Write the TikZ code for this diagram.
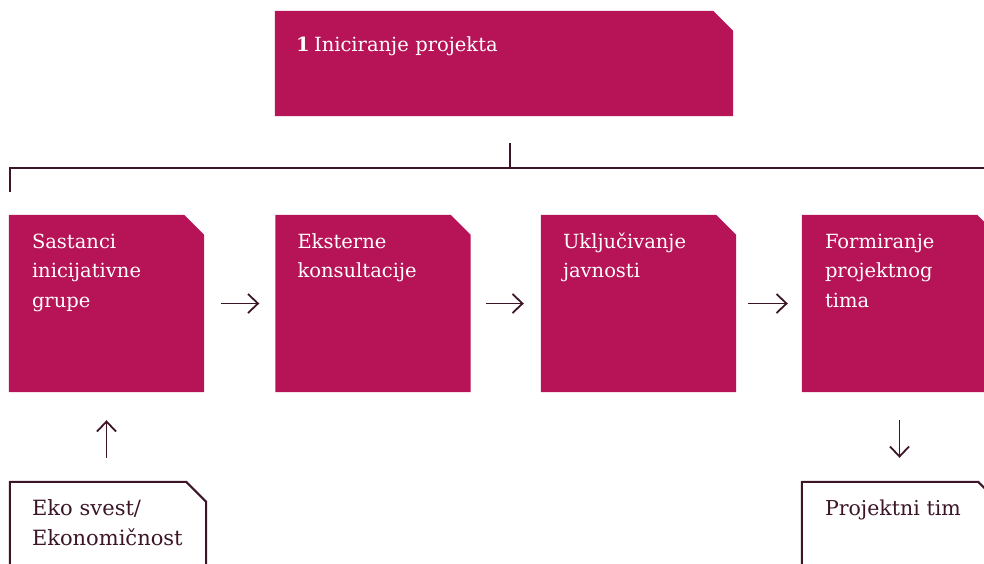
\documentclass[tikz,border=0pt]{standalone}
\usepackage{fontspec}
\setmainfont{DejaVu Serif}
\usetikzlibrary{arrows.meta}
\definecolor{plum}{RGB}{183,20,87}
\definecolor{darkline}{RGB}{60,22,40}
\tikzstyle{phase} = [rectangle, inner sep=0pt, draw=none]
\tikzstyle{arrow} = [line width=1.8pt, darkline, -{Straight Barb[length=10pt,width=19pt,line width=1.8pt]}]
\tikzset{boxtext/.style={anchor=north west, inner sep=0pt, text width=400pt, align=left, font=\fontsize{19.5}{29.5}\selectfont, execute at begin node=\rule{0pt}{18pt}}}
% box with the north east corner cut off
\newcommand{\cutbox}[2]{\filldraw[#2] (#1.south west) |- ([xshift=-20pt]#1.north east) -- ([yshift=-20pt]#1.north east) -- (#1.south east) -- cycle;}

\begin{document}
\begin{tikzpicture}[x=1pt,y=-1pt]
    \clip (0,0) rectangle (984,563);
    \node [phase, minimum width=458, minimum height=105] (init) at (504,63.5) {};

    \node [phase, minimum width=195, minimum height=177] (meet) at (106.5,303.5) {};
    \node [phase, minimum width=195, minimum height=177] (consult) at (373,303.5) {};
    \node [phase, minimum width=195, minimum height=177] (public) at (638.5,303.5) {};
    \node [phase, minimum width=195, minimum height=177] (team) at (899.5,303.5) {};

    \node [phase, minimum width=196, minimum height=140] (eco) at (108,552) {};
    \node [phase, minimum width=196, minimum height=140] (result) at (900,552) {};

    \cutbox{init}{fill=plum, draw=none}
    \cutbox{meet}{fill=plum, draw=none}
    \cutbox{consult}{fill=plum, draw=none}
    \cutbox{public}{fill=plum, draw=none}
    \cutbox{team}{fill=plum, draw=none}
    \cutbox{eco}{fill=white, draw=darkline, line width=2pt}
    \cutbox{result}{fill=white, draw=darkline, line width=2pt}

    \node [boxtext, text=white] (initlabel) at ([shift={(21,22)}]init.north west) {\textbf{1}\hspace{-2pt} Iniciranje projekta};
    \node [boxtext, text=white] (meetlabel) at ([shift={(23,15)}]meet.north west) {Sastanci\\inicijativne\\grupe};
    \node [boxtext, text=white] (consultlabel) at ([shift={(22,15)}]consult.north west) {Eksterne\\konsultacije};
    \node [boxtext, text=white] (publiclabel) at ([shift={(22,15)}]public.north west) {Uključivanje\\javnosti};
    \node [boxtext, text=white] (teamlabel) at ([shift={(23,15)}]team.north west) {Formiranje\\projektnog\\tima};
    \node [boxtext, text=darkline, font=\fontsize{21}{30.5}\selectfont] (ecolabel) at ([shift={(22,15)}]eco.north west) {Eko svest/\\Ekonomičnost};
    \node [boxtext, text=darkline, font=\fontsize{20.5}{30.5}\selectfont] (resultlabel) at ([shift={(23,15)}]result.north west) {Projektni tim};

    % bracket
    \coordinate (stemtop) at ([xshift=6pt, yshift=-27pt]init.south);
    \coordinate (stembottom) at ([yshift=-52pt]init.south -| stemtop);
    \coordinate (leftend) at ([xshift=1pt, yshift=23pt]meet.north west);
    \coordinate (rightend) at (1000,168);
    \draw [line width=2.2pt, darkline] (stemtop) -- (stembottom);
    \draw [line width=2.2pt, darkline] (leftend) |- (rightend);

    \draw [arrow, shorten <=17pt, shorten >=16pt] (meet) -- (consult);
    \draw [arrow, shorten <=15pt, shorten >=17pt] (consult) -- (public);
    \draw [arrow, shorten <=12pt, shorten >=14pt] (public) -- (team);
    \draw [arrow, shorten <=24pt, shorten >=28pt] (eco.north -| meet) -- (meet.south);
    \draw [arrow, shorten <=28pt, shorten >=24pt] (team.south) -- (result.north -| team);
\end{tikzpicture}
\end{document}
